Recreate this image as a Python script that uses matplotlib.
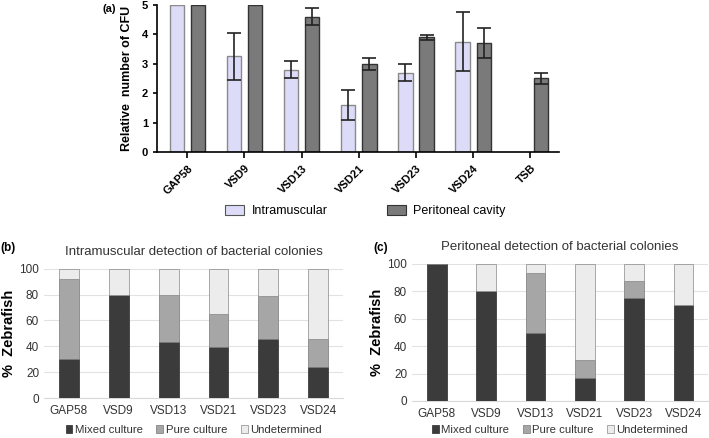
import numpy as np
import matplotlib.pyplot as plt
from matplotlib.patches import Patch

plt.rcParams['font.family'] = ['Liberation Sans', 'DejaVu Sans']

# panel (a): relative number of CFU
strains_a = ['GAP58', 'VSD9', 'VSD13', 'VSD21', 'VSD23', 'VSD24', 'TSB']
intra_val = [5.0, 3.25, 2.8, 1.6, 2.7, 3.75, np.nan]
intra_err = [0.0, 0.8, 0.3, 0.5, 0.3, 1.0, np.nan]
perit_val = [5.0, 5.0, 4.6, 3.0, 3.9, 3.7, 2.5]
perit_err = [0.0, 0.0, 0.3, 0.2, 0.08, 0.5, 0.2]

# panels (b) and (c): % zebrafish
strains_bc = ['GAP58', 'VSD9', 'VSD13', 'VSD21', 'VSD23', 'VSD24']
im_mixed = [30.5, 80, 43.5, 39.3, 46, 24.3]
im_pure = [61.7, 0, 36.3, 25.8, 33, 21.2]
im_undet = [7.8, 20, 20.2, 34.9, 21, 54.5]
pc_mixed = [100, 80.3, 49.8, 17, 75, 69.7]
pc_pure = [0, 0, 43.6, 12.9, 12.9, 0]
pc_undet = [0, 19.7, 6.6, 70.1, 12.1, 30.3]

c_intra = '#dcdcf8'
c_perit = '#7a7a7a'
c_mixed = '#3b3b3b'
c_pure = '#a6a6a6'
c_undet = '#ececec'

fig = plt.figure(figsize=(7.09, 4.38), dpi=100)

# ---- (a)
ax = fig.add_axes([0.2214, 0.653, 0.567, 0.336])
x = np.arange(len(strains_a))
w = 0.25
off = 0.185
ek = dict(ecolor='#222222', elinewidth=1.2, capsize=4.7, capthick=1.2)
ie = [e if e > 0 else np.nan for e in intra_err]
pe = [e if e > 0 else np.nan for e in perit_err]
ax.bar(x - off, intra_val, w, color=c_intra, edgecolor='#8a8a8a', linewidth=1)
ax.errorbar(x - off, intra_val, yerr=ie, fmt='none', **ek)
ax.bar(x + off, perit_val, w, color=c_perit, edgecolor='#333333', linewidth=1)
ax.errorbar(x + off, perit_val, yerr=pe, fmt='none', **ek)
ax.set_xlim(-0.53, 6.5)
ax.set_ylim(0, 5)
ax.set_xticks(x)
ax.set_xticklabels(strains_a, rotation=45, ha='right', rotation_mode='anchor',
                   fontweight='bold', fontsize=8)
ax.set_yticks(range(6))
ax.set_yticklabels([str(i) for i in range(6)], fontweight='bold', fontsize=8)
ax.tick_params(axis='x', length=4, width=1.2, pad=4)
ax.tick_params(axis='y', length=3, width=1.2)
for s in ['top', 'right']:
    ax.spines[s].set_visible(False)
for s in ['left', 'bottom']:
    ax.spines[s].set_linewidth(1.2)
ax.set_ylabel('Relative  number of CFU', fontweight='bold', fontsize=9, labelpad=6)
fig.text(0.145, 0.972, '(a)', fontweight='bold', fontsize=8)

fig.legend(handles=[Patch(facecolor=c_intra, edgecolor='#555555', linewidth=0.8)],
           labels=['Intramuscular'], loc='center left', bbox_to_anchor=(0.302, 0.518),
           frameon=False, fontsize=9, handlelength=1.5, handleheight=0.8, handletextpad=0.6)
fig.legend(handles=[Patch(facecolor=c_perit, edgecolor='#333333', linewidth=0.8)],
           labels=['Peritoneal cavity'], loc='center left', bbox_to_anchor=(0.53, 0.518),
           frameon=False, fontsize=9, handlelength=1.5, handleheight=0.8, handletextpad=0.6)


def stacked(ax, mixed, pure, undet, title):
    xx = np.arange(len(strains_bc))
    bw = 0.4
    ax.bar(xx, mixed, bw, color=c_mixed, edgecolor='#2a2a2a', linewidth=0.5,
           label='Mixed culture', zorder=3)
    ax.bar(xx, pure, bw, bottom=mixed, color=c_pure, edgecolor='#777777',
           linewidth=0.5, label='Pure culture', zorder=3)
    bot = np.array(mixed) + np.array(pure)
    ax.bar(xx, undet, bw, bottom=bot, color=c_undet, edgecolor='#888888',
           linewidth=0.5, label='Undetermined', zorder=3)
    ax.set_xlim(-0.5, 5.5)
    ax.set_ylim(0, 100)
    ax.set_yticks(range(0, 101, 20))
    ax.set_xticks(xx)
    ax.set_xticklabels(strains_bc)
    ax.tick_params(length=0, labelsize=8.5, colors='#333333')
    ax.tick_params(axis='x', pad=5)
    ax.yaxis.grid(True, color='#e2e2e2', linewidth=0.8, zorder=0)
    for s in ['top', 'right', 'left']:
        ax.spines[s].set_visible(False)
    ax.spines['bottom'].set_color('#d9d9d9')
    ax.set_ylabel('%  Zebrafish', fontweight='bold', fontsize=10.5, labelpad=2)
    ax.set_title(title, fontsize=9.5, color='#333333', pad=10)
    bb = ax.get_position()
    ax.legend(loc='center', bbox_to_anchor=((bb.x0 + bb.x1) / 2, 0.018),
              bbox_transform=fig.transFigure, ncol=3, frameon=False,
              fontsize=8.2, handlelength=0.6, handleheight=0.6, handletextpad=0.2,
              columnspacing=1.2, labelcolor='#333333', borderpad=0.1)


# ---- (b)
axb = fig.add_axes([0.062, 0.0913, 0.422, 0.295])
stacked(axb, im_mixed, im_pure, im_undet, 'Intramuscular detection of bacterial colonies')
fig.text(0.0, 0.428, '(b)', fontweight='bold', fontsize=8.5)

# ---- (c)
axc = fig.add_axes([0.581, 0.0845, 0.418, 0.3128])
stacked(axc, pc_mixed, pc_pure, pc_undet, 'Peritoneal detection of bacterial colonies')
fig.text(0.527, 0.428, '(c)', fontweight='bold', fontsize=8.5)

fig.savefig('out.png', dpi=100)
